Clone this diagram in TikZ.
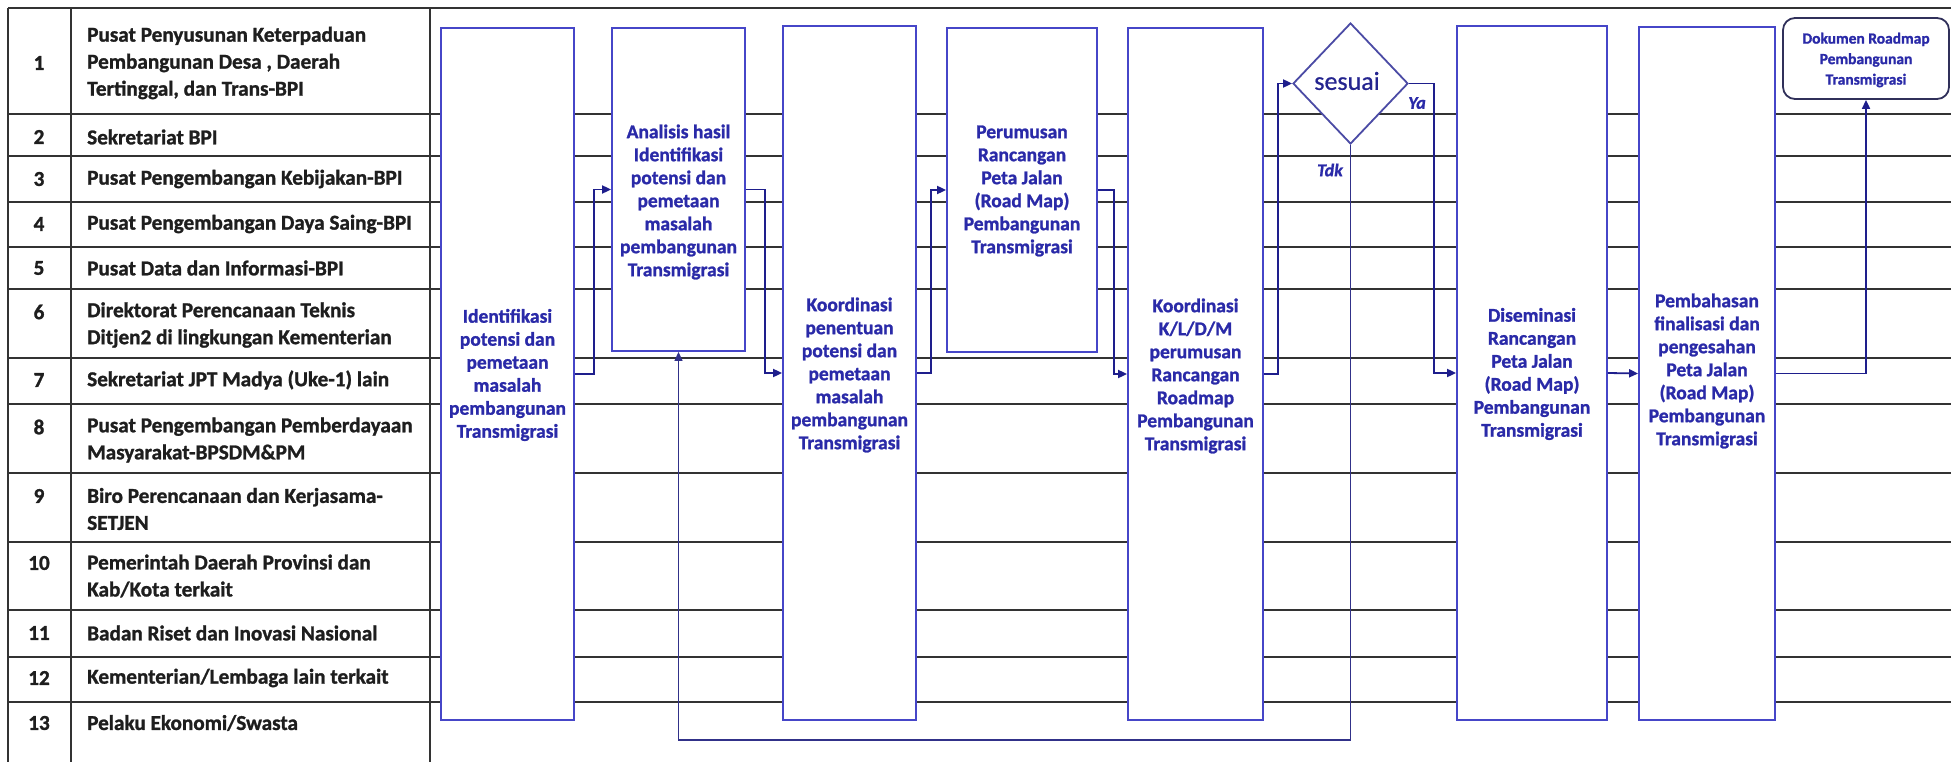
\documentclass[tikz,border=0pt]{standalone}
\usepackage{fontspec}
\setmainfont{Carlito}
\newfontfamily\heavyfont{Carlito Bold}[FakeBold=1.2]
\newfontfamily\semifont{Carlito}[FakeBold=0.6]
\newfontfamily\heavyit{Carlito Bold Italic}[FakeBold=1]
\usetikzlibrary{arrows.meta,shapes.geometric}
\definecolor{gridline}{HTML}{333333}
\definecolor{boxblue}{HTML}{4646C8}
\definecolor{txtblue}{HTML}{2A2AA8}
\definecolor{flow}{HTML}{1E1E8C}
\definecolor{docedge}{HTML}{30305A}
\definecolor{diaedge}{HTML}{4B4BA5}
\definecolor{lanetxt}{HTML}{1E1E1E}

\begin{document}
\begin{tikzpicture}[x=1pt,y=-1pt,
  rowline/.style={gridline,line width=2.2pt},
  stepbox/.style={draw=boxblue,line width=1.8pt,fill=white,inner sep=0pt},
  boxtext/.style={text=txtblue,font=\fontsize{19.5}{23}\selectfont\heavyfont,align=center,inner sep=0pt},
  lanetext/.style={anchor=west,align=left,inner sep=0pt,font=\fontsize{21.2}{27}\selectfont\heavyfont,text=lanetxt},
  lanenum/.style={inner sep=0pt,font=\fontsize{21.2}{27}\selectfont\heavyfont,text=lanetxt},
  flowarrow/.style={flow,line width=1.8pt,-{Triangle[length=9pt,width=8pt]}},
  feedback/.style={flow!80!gray,line width=1.2pt,-{Triangle[length=9pt,width=8pt]}},
  answer/.style={text=txtblue,font=\fontsize{18}{20}\selectfont\heavyit,inner sep=0pt},
]
\useasboundingbox (0,0) rectangle (1951,762);
\fill[white] (0,0) rectangle (1951,762);

% lane grid
\draw[rowline] (8,8) -- (1951,8);
\foreach \yy in {114,156,202,247,289,358,404,473,542,610,657,702}
  \draw[rowline] (8,\yy) -- (1951,\yy);
\foreach \xx in {8,71,430}
  \draw[rowline] (\xx,8) -- (\xx,762);

% lane numbers
\node[lanenum] (n1) at (39,63) {1};
\node[lanenum] (n2) at (39,137) {2};
\node[lanenum] (n3) at (39,179) {3};
\node[lanenum] (n4) at (39,224) {4};
\node[lanenum] (n5) at (39,268) {5};
\node[lanenum] (n6) at (39,312) {6};
\node[lanenum] (n7) at (39,380) {7};
\node[lanenum] (n8) at (39,427) {8};
\node[lanenum] (n9) at (39,496) {9};
\node[lanenum] (n10) at (39,563) {10};
\node[lanenum] (n11) at (39,633) {11};
\node[lanenum] (n12) at (39,678) {12};
\node[lanenum] (n13) at (39,723) {13};

% lane names
\node[lanetext] (l1) at (87,63) {Pusat Penyusunan Keterpaduan\\Pembangunan Desa , Daerah\\Tertinggal, dan Trans-BPI};
\node[lanetext] (l2) at (87,137) {Sekretariat BPI};
\node[lanetext] (l3) at (87,179) {Pusat Pengembangan Kebijakan-BPI};
\node[lanetext] (l4) at (87,224) {Pusat Pengembangan Daya Saing-BPI};
\node[lanetext] (l5) at (87,268) {Pusat Data dan Informasi-BPI};
\node[lanetext] (l6) at (87,325) {Direktorat Perencanaan Teknis\\Ditjen2 di lingkungan Kementerian};
\node[lanetext] (l7) at (87,380) {Sekretariat JPT Madya (Uke-1) lain};
\node[lanetext] (l8) at (87,440) {Pusat Pengembangan Pemberdayaan\\Masyarakat-BPSDM\&PM};
\node[lanetext] (l9) at (87,509) {Biro Perencanaan dan Kerjasama-\\SETJEN};
\node[lanetext] (l10) at (87,576) {Pemerintah Daerah Provinsi dan\\Kab/Kota terkait};
\node[lanetext] (l11) at (87,633) {Badan Riset dan Inovasi Nasional};
\node[lanetext] (l12) at (87,678) {Kementerian/Lembaga lain terkait};
\node[lanetext] (l13) at (87,723) {Pelaku Ekonomi/Swasta};

% process steps
\node[stepbox,minimum width=133pt,minimum height=692pt] (A) at (507.5,374) {};
\node[stepbox,minimum width=133pt,minimum height=323pt] (B) at (678.5,189.5) {};
\node[stepbox,minimum width=133pt,minimum height=694pt] (C) at (849.5,373) {};
\node[stepbox,minimum width=150pt,minimum height=324pt] (D) at (1022,190) {};
\node[stepbox,minimum width=135pt,minimum height=692pt] (E) at (1195.5,374) {};
\node[stepbox,minimum width=150pt,minimum height=694pt] (F) at (1532,373) {};
\node[stepbox,minimum width=136pt,minimum height=693pt] (G) at (1707,373.5) {};
\node[draw=diaedge,line width=1.8pt,fill=white,diamond,inner sep=0pt,
      minimum width=115pt,minimum height=121pt] (dia) at (1350.5,83.5) {};
\node[draw=docedge,line width=1.8pt,fill=white,rounded corners=12pt,inner sep=0pt,
      minimum width=166pt,minimum height=81pt] (H) at (1866,58.5) {};

% step texts
\node[boxtext] (tA) at (507.5,375) {Identifikasi\\potensi dan\\pemetaan\\masalah\\pembangunan\\Transmigrasi};
\node[boxtext] (tB) at (678.5,202) {Analisis hasil\\Identifikasi\\potensi dan\\pemetaan\\masalah\\pembangunan\\Transmigrasi};
\node[boxtext] (tC) at (849.5,375) {Koordinasi\\penentuan\\potensi dan\\pemetaan\\masalah\\pembangunan\\Transmigrasi};
\node[boxtext] (tD) at (1022,191) {Perumusan\\Rancangan\\Peta Jalan\\(Road Map)\\Pembangunan\\Transmigrasi};
\node[boxtext] (tE) at (1195.5,376) {Koordinasi\\K/L/D/M\\perumusan\\Rancangan\\Roadmap\\Pembangunan\\Transmigrasi};
\node[boxtext] (tF) at (1532,374) {Diseminasi\\Rancangan\\Peta Jalan\\(Road Map)\\Pembangunan\\Transmigrasi};
\node[boxtext] (tG) at (1707,371) {Pembahasan\\finalisasi dan\\pengesahan\\Peta Jalan\\(Road Map)\\Pembangunan\\Transmigrasi};
\node[boxtext,font=\fontsize{15.5}{20.5}\selectfont\heavyfont] (tH) at (1866,60) {Dokumen Roadmap\\Pembangunan\\Transmigrasi};
\node[text=txtblue!85!black,font=\fontsize{26}{28}\selectfont\semifont,inner sep=0pt] (tdia) at (1347,81) {sesuai};
\node[answer] (ya) at (1417,103) {Ya};
\node[answer] (tdk) at (1330,170) {Tdk};

% flow connectors
\draw[flowarrow] (A.east) -- ++(19,0) |- (B.west);
\draw[flowarrow] (B.east) -- ++(19,0) |- (C.west);
\draw[flowarrow] (C.east) -- ++(14,0) |- (D.west);
\draw[flowarrow] (D.east) -- ++(16,0) |- (E.west);
\draw[flowarrow] (E.east) -- ++(14,0) |- (dia.west);
\draw[flowarrow] (dia.east) -- ++(25,0) |- (F.west);
\draw[flowarrow] (F.east) -- (G.west);
\draw[flowarrow] (G.east) -- ++(91,0) -| (H.south);
\coordinate (back) at (1350.5,740);
\draw[feedback] (dia.south) -- (back) -| (B.south);
\end{tikzpicture}
\end{document}
